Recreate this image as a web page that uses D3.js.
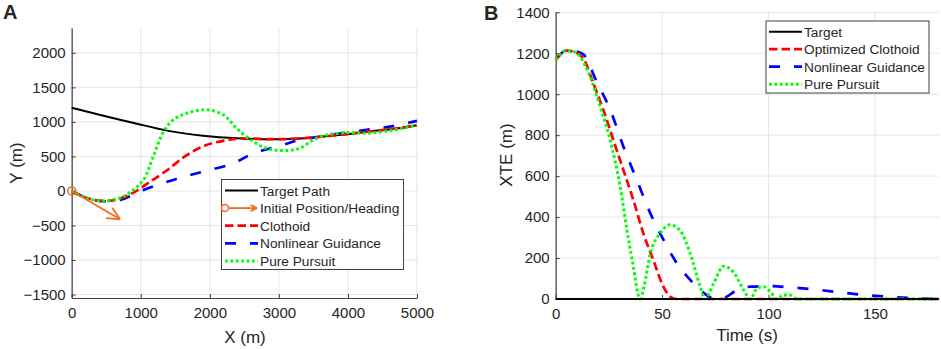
<!DOCTYPE html>
<html>
<head>
<meta charset="utf-8">
<script src="https://cdn.jsdelivr.net/npm/d3@7"></script>
<style>
  body { margin: 0; background: #fff; }
  text { font-family: "Liberation Sans", Arial, sans-serif; fill: #262626; }
</style>
</head>
<body>
<svg id="chart" width="941" height="349"></svg>
<script>
// Panel A data: trajectories in X/Y (m)
const targetPath = [[0,1205],[400,1105],[900,985],[1400,870],[1900,800],[2400,762],[2900,750],[3300,760],[3800,805],[4300,860],[4700,905],[5000,952]];
const clothoidPath = [[0,0],[200,-95],[450,-145],[650,-125],[900,-20],[1130,130],[1380,300],[1660,515],[1950,665],[2240,735],[2450,760],[2900,750],[3300,760],[3800,805],[4300,860],[4700,905],[5000,952]];
const nonlinearPath = [[0,0],[200,-95],[450,-148],[700,-130],[1040,15],[1470,160],[1900,280],[2340,400],[2630,545],[2970,640],[3300,738],[3740,810],[4270,885],[4650,940],[5000,1015]];
const pursuitPath = [[0,0],[200,-95],[450,-148],[700,-100],[890,15],[1040,160],[1180,495],[1330,860],[1470,1030],[1665,1125],[1950,1175],[2200,1100],[2390,905],[2630,715],[2820,618],[3060,585],[3300,618],[3500,740],[3690,810],[3980,845],[4270,835],[4650,880],[5000,955]];
const headingArrow = [[0,0],[700,-410]];

// Panel B data: cross-track error vs time
const xteTarget = [[0,0],[180,0]];
const xteClothoid = [[0,1167],[5,1213],[9,1205],[13,1175],[17.7,1053],[22.4,923],[27.1,776],[31.8,630],[36.5,483],[41.2,320],[45.9,190],[50.6,60],[53.7,12],[57,0],[180,0]];
const xteNonlinear = [[0,1167],[5,1213],[9,1210],[13,1195],[19.3,1060],[25.6,925],[31.8,745],[38.1,582],[44.4,420],[50.6,290],[56.9,175],[63.2,93],[69.5,30],[74.5,2],[78.5,4],[85,42],[91.4,60],[100.8,63],[110,57],[124,44],[140,25],[155.7,11],[170,3],[180,0]];
const xtePursuit = [[0,1167],[5,1213],[8,1210],[11.5,1183],[16.2,1085],[20.9,939],[25.6,776],[30.3,548],[33.5,336],[36.5,157],[38.9,15],[39.7,0],[41.5,60],[44.4,220],[49,320],[53.7,362],[58.4,335],[63.2,222],[67.9,60],[70.2,0],[74.2,76],[78.9,160],[83.6,130],[88.3,44],[91.4,0],[94.6,52],[97.7,60],[100.8,36],[104,0],[107,20],[110,20],[113.3,0],[180,0]];

const xTicksA = [0,1000,2000,3000,4000,5000];
const yTicksA = [-1500,-1000,-500,0,500,1000,1500,2000];
const xTicksB = [0,50,100,150];
const yTicksB = [0,200,400,600,800,1000,1200,1400];

const legendA = ['Target Path','Initial Position/Heading','Clothoid','Nonlinear Guidance','Pure Pursuit'];
const legendB = ['Target','Optimized Clothoid','Nonlinear Guidance','Pure Pursuit'];

const orange = '#f36a22';
const styles = {
  target: {stroke: '#000', width: 2, dash: null},
  clothoid: {stroke: '#ff0000', width: 2.7, dash: '8.5,4'},
  nonlinear: {stroke: '#0000ff', width: 2.7, dash: '11,14'},
  pursuit: {stroke: '#00ff00', width: 3, dash: '2.8,2.6'}
};

const svg = d3.select('#chart');

function drawFrame(g, x, y, xt, yt, xLabel, yLabel, xLabelPos, yLabelPos) {
  // grid
  g.append('g').selectAll('line').data(xt).enter().append('line')
    .attr('x1', d => x(d)).attr('x2', d => x(d))
    .attr('y1', y.range()[0]).attr('y2', y.range()[1])
    .attr('stroke', '#e5e5e5').attr('stroke-width', 1);
  g.append('g').selectAll('line').data(yt).enter().append('line')
    .attr('y1', d => y(d)).attr('y2', d => y(d))
    .attr('x1', x.range()[0]).attr('x2', x.range()[1])
    .attr('stroke', '#e5e5e5').attr('stroke-width', 1);

  const xAxis = g.append('g')
    .attr('transform', `translate(0,${y.range()[0]})`)
    .call(d3.axisBottom(x).tickValues(xt).tickFormat(d3.format('d'))
      .tickSizeInner(-4).tickSizeOuter(0).tickPadding(9));
  const yAxis = g.append('g')
    .attr('transform', `translate(${x.range()[0]},0)`)
    .call(d3.axisLeft(y).tickValues(yt).tickFormat(d3.format('d'))
      .tickSizeInner(-4).tickSizeOuter(0).tickPadding(6));
  [xAxis, yAxis].forEach(a => {
    a.select('.domain').attr('stroke', '#404040').attr('stroke-width', 1.2);
    a.selectAll('.tick line').attr('stroke', '#404040');
    a.selectAll('.tick text').attr('font-size', 15).attr('fill', '#262626')
      .attr('font-family', '"Liberation Sans", Arial, sans-serif');
  });

  g.append('text').attr('x', xLabelPos[0]).attr('y', xLabelPos[1])
    .attr('text-anchor', 'middle').attr('font-size', 17).text(xLabel);
  g.append('text').attr('transform', `translate(${yLabelPos[0]},${yLabelPos[1]}) rotate(-90)`)
    .attr('text-anchor', 'middle').attr('font-size', 17).text(yLabel);
}

function drawSeries(g, line, data, s) {
  g.append('path').datum(data)
    .attr('d', line)
    .attr('fill', 'none')
    .attr('stroke', s.stroke)
    .attr('stroke-width', s.width)
    .attr('stroke-dasharray', s.dash);
}

// ---------- Panel A ----------
const xA = d3.scaleLinear().domain([0, 5000]).range([71.7, 417]);
const yA = d3.scaleLinear().domain([-1550, 2360]).range([298, 28]);
const gA = svg.append('g');
drawFrame(gA, xA, yA, xTicksA, yTicksA, 'X (m)', 'Y (m)', [245, 343], [22, 163]);

const lineA = d3.line().x(d => xA(d[0])).y(d => yA(d[1])).curve(d3.curveCatmullRom.alpha(0.5));
drawSeries(gA, lineA, targetPath, styles.target);
drawSeries(gA, lineA, nonlinearPath, styles.nonlinear);
drawSeries(gA, lineA, clothoidPath, styles.clothoid);
drawSeries(gA, lineA, pursuitPath, styles.pursuit);

// heading arrow
function arrow(g, x1, y1, x2, y2, head) {
  const ang = Math.atan2(y2 - y1, x2 - x1);
  g.append('line').attr('x1', x1).attr('y1', y1).attr('x2', x2).attr('y2', y2)
    .attr('stroke', orange).attr('stroke-width', 1.8);
  [0.45, -0.45].forEach(da => {
    g.append('line').attr('x1', x2).attr('y1', y2)
      .attr('x2', x2 - head * Math.cos(ang + da)).attr('y2', y2 - head * Math.sin(ang + da))
      .attr('stroke', orange).attr('stroke-width', 1.8);
  });
}
arrow(gA, xA(headingArrow[0][0]), yA(headingArrow[0][1]), xA(headingArrow[1][0]), yA(headingArrow[1][1]), 14);
gA.append('circle').attr('cx', xA(0)).attr('cy', yA(0)).attr('r', 4)
  .attr('fill', 'none').attr('stroke', orange).attr('stroke-width', 1.6);

// legend A
const lgA = gA.append('g');
lgA.append('rect').attr('x', 221.5).attr('y', 179.5).attr('width', 182).attr('height', 90)
  .attr('fill', '#fff').attr('stroke', '#404040').attr('stroke-width', 1);
const rowsA = [styles.target, null, styles.clothoid, styles.nonlinear, styles.pursuit];
legendA.forEach((name, i) => {
  const cy = 190.5 + i * 17.6;
  const s = rowsA[i];
  if (s) {
    lgA.append('line').attr('x1', 225).attr('x2', 258).attr('y1', cy).attr('y2', cy)
      .attr('stroke', s.stroke).attr('stroke-width', s.width).attr('stroke-dasharray', s.dash);
  } else {
    arrow(lgA, 225, cy, 257, cy, 7);
    lgA.append('circle').attr('cx', 225).attr('cy', cy).attr('r', 3.5)
      .attr('fill', '#fff').attr('stroke', orange).attr('stroke-width', 1.5);
  }
  lgA.append('text').attr('x', 260).attr('y', cy + 5).attr('font-size', 13.7).text(name);
});

svg.append('text').attr('x', 3).attr('y', 19).attr('font-size', 20).attr('font-weight', 'bold').text('A');

// ---------- Panel B ----------
const xB = d3.scaleLinear().domain([0, 180]).range([555.7, 938.8]);
const yB = d3.scaleLinear().domain([0, 1400]).range([299, 12.3]);
const gB = svg.append('g');
drawFrame(gB, xB, yB, xTicksB, yTicksB, 'Time (s)', 'XTE (m)', [747, 341], [512, 155]);

const lineB = d3.line().x(d => xB(d[0])).y(d => yB(d[1])).curve(d3.curveMonotoneX);
drawSeries(gB, lineB, xteNonlinear, styles.nonlinear);
drawSeries(gB, lineB, xteClothoid, styles.clothoid);
drawSeries(gB, lineB, xtePursuit, styles.pursuit);
drawSeries(gB, lineB, xteTarget, styles.target);

const lgB = gB.append('g');
lgB.append('rect').attr('x', 766).attr('y', 21).attr('width', 163).attr('height', 72)
  .attr('fill', '#fff').attr('stroke', '#404040').attr('stroke-width', 1);
const rowsB = [styles.target, styles.clothoid, styles.nonlinear, styles.pursuit];
legendB.forEach((name, i) => {
  const cy = 31.7 + i * 17.5;
  const s = rowsB[i];
  lgB.append('line').attr('x1', 769).attr('x2', 802).attr('y1', cy).attr('y2', cy)
    .attr('stroke', s.stroke).attr('stroke-width', s.width).attr('stroke-dasharray', s.dash);
  lgB.append('text').attr('x', 804).attr('y', cy + 5).attr('font-size', 13.7).text(name);
});

svg.append('text').attr('x', 484).attr('y', 20).attr('font-size', 20).attr('font-weight', 'bold').text('B');
</script>
</body>
</html>
